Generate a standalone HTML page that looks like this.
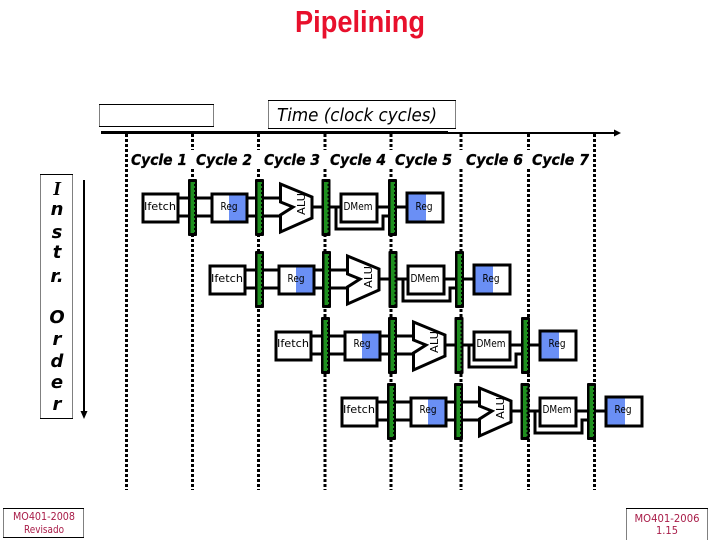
<!DOCTYPE html>
<html>
<head>
<meta charset="utf-8">
<style>
html,body{margin:0;padding:0;background:#fff;width:720px;height:540px;overflow:hidden}
svg{display:block}
text{font-family:"DejaVu Sans","Liberation Sans",sans-serif}
.cy{font-size:15px;font-weight:bold;font-style:italic;fill:#000;stroke:#000;stroke-width:.3}
.lb{font-size:11px;fill:#000;text-anchor:middle}
.in{font-size:18px;font-weight:bold;font-style:italic;fill:#000;text-anchor:middle}
.ft{font-size:11px;fill:#a81c48;text-anchor:middle}
</style>
</head>
<body>
<svg width="720" height="540" viewBox="0 0 720 540" xmlns="http://www.w3.org/2000/svg">
<defs>
<g id="latch">
  <rect x="0" y="0" width="9" height="57" rx="1" fill="#000"/>
  <rect x="2.500" y="3" width="3.500" height="51" fill="#1f8f1f"/>
  <path d="M6.500 3V54" stroke="#1f8f1f" stroke-width="1" stroke-dasharray="2 2" fill="none"/>
</g>
<g id="row">
  <g stroke="#000" stroke-width="3" fill="none">
    <path d="M178 198H188M178 216H188M197 198H211M197 216H211M247 198H255M247 216H255M264 198H286M264 216H286"/>
    <path d="M312 207H322M330 207H340M377 207H388M396 207H406"/>
    <path d="M336 207V229H383V216H388"/>
  </g>
  <rect x="143" y="194" width="35" height="28" fill="#fff" stroke="#000" stroke-width="3"/>
  <rect x="212" y="194" width="35" height="28" fill="#fff" stroke="#000" stroke-width="3"/>
  <rect x="229" y="195.500" width="16.500" height="25" fill="#6a8ff5"/>
  <rect x="341" y="194" width="36" height="28" fill="#fff" stroke="#000" stroke-width="3"/>
  <rect x="407" y="193" width="36" height="29" fill="#fff" stroke="#000" stroke-width="3"/>
  <rect x="408.500" y="194.500" width="17.500" height="26" fill="#6a8ff5"/>
  <polygon points="280.500,184 312,197 312,218 280.500,232 280.500,215 293,207 280.500,202" fill="#fff" stroke="#000" stroke-width="3"/>
  <use href="#latch" x="188" y="179"/>
  <use href="#latch" x="255" y="179"/>
  <use href="#latch" x="321.500" y="179"/>
  <use href="#latch" x="388" y="179"/>
</g>
</defs>

<text x="360" y="32" font-size="31" font-weight="bold" fill="#e8102c" text-anchor="middle" textLength="130" lengthAdjust="spacingAndGlyphs" style="font-family:'Liberation Sans',sans-serif">Pipelining</text>

<rect x="99.500" y="104.500" width="114" height="22" fill="#fff" stroke="#000" stroke-width="1" stroke-dasharray="1 1"/>
<path d="M99 104.500H214M99 126.500H214" stroke="#000" stroke-width="1"/>
<rect x="268.500" y="100.500" width="187" height="28" fill="#fff" stroke="#000" stroke-width="1" stroke-dasharray="1 1"/>
<path d="M268 100.500H456M268 128.500H456" stroke="#000" stroke-width="1"/>
<text x="277" y="121" font-size="18" font-style="italic" fill="#000" textLength="160" lengthAdjust="spacingAndGlyphs">Time (clock cycles)</text>

<path d="M101 132.500H448" stroke="#000" stroke-width="3"/>
<path d="M448 133H616" stroke="#000" stroke-width="2"/>
<polygon points="621,133 614,129.500 614,136.500" fill="#000"/>

<g stroke="#000" stroke-width="3" stroke-dasharray="3 2" fill="none">
  <path d="M126.500 134V490M192.500 134V490M258.500 134V490M325 134V490M391 134V490M461 134V490M528.500 134V490M594.500 134V490"/>
</g>

<rect x="131" y="150" width="462" height="19" fill="#fff"/>
<text class="cy" x="131" y="165" textLength="56" lengthAdjust="spacingAndGlyphs">Cycle 1</text>
<text class="cy" x="196" y="165" textLength="56" lengthAdjust="spacingAndGlyphs">Cycle 2</text>
<text class="cy" x="264" y="165" textLength="56" lengthAdjust="spacingAndGlyphs">Cycle 3</text>
<text class="cy" x="330" y="165" textLength="56" lengthAdjust="spacingAndGlyphs">Cycle 4</text>
<text class="cy" x="395" y="165" textLength="57" lengthAdjust="spacingAndGlyphs">Cycle 5</text>
<text class="cy" x="466" y="165" textLength="57" lengthAdjust="spacingAndGlyphs">Cycle 6</text>
<text class="cy" x="532" y="165" textLength="57" lengthAdjust="spacingAndGlyphs">Cycle 7</text>

<rect x="40.500" y="174.500" width="32" height="244" fill="#fff" stroke="#000" stroke-width="1" stroke-dasharray="1 1"/>
<path d="M40 174.500H73M40 418.500H73" stroke="#000" stroke-width="1"/>
<text class="in" x="57" y="195" style="font-family:'Liberation Serif',serif;font-size:20px">I</text>
<text class="in" x="57" y="215">n</text>
<text class="in" x="57" y="238">s</text>
<text class="in" x="57" y="258">t</text>
<text class="in" x="57" y="282">r.</text>
<text class="in" x="57" y="323">O</text>
<text class="in" x="57" y="345">r</text>
<text class="in" x="57" y="367">d</text>
<text class="in" x="57" y="388">e</text>
<text class="in" x="57" y="410">r</text>
<path d="M84 180V413" stroke="#000" stroke-width="2"/>
<polygon points="84,419 80.500,411 87.500,411" fill="#000"/>

<use href="#row"/>
<use href="#row" transform="translate(67,72)"/>
<use href="#row" transform="translate(133,138)"/>
<use href="#row" transform="translate(199,204)"/>

<g>
<text class="lb" x="160" y="210" textLength="32" lengthAdjust="spacingAndGlyphs">Ifetch</text>
<text class="lb" x="229" y="210" textLength="17" lengthAdjust="spacingAndGlyphs">Reg</text>
<text class="lb" transform="translate(305,204) rotate(-90)" textLength="22" lengthAdjust="spacingAndGlyphs">ALU</text>
<text class="lb" x="358" y="210" textLength="29" lengthAdjust="spacingAndGlyphs">DMem</text>
<text class="lb" x="424" y="210" textLength="17" lengthAdjust="spacingAndGlyphs">Reg</text>

<text class="lb" x="227" y="282" textLength="32" lengthAdjust="spacingAndGlyphs">Ifetch</text>
<text class="lb" x="296" y="282" textLength="17" lengthAdjust="spacingAndGlyphs">Reg</text>
<text class="lb" transform="translate(372,277) rotate(-90)" textLength="22" lengthAdjust="spacingAndGlyphs">ALU</text>
<text class="lb" x="425" y="282" textLength="29" lengthAdjust="spacingAndGlyphs">DMem</text>
<text class="lb" x="491" y="282" textLength="17" lengthAdjust="spacingAndGlyphs">Reg</text>

<text class="lb" x="293" y="347" textLength="32" lengthAdjust="spacingAndGlyphs">Ifetch</text>
<text class="lb" x="362" y="347" textLength="17" lengthAdjust="spacingAndGlyphs">Reg</text>
<text class="lb" transform="translate(438,342) rotate(-90)" textLength="22" lengthAdjust="spacingAndGlyphs">ALU</text>
<text class="lb" x="491" y="347" textLength="29" lengthAdjust="spacingAndGlyphs">DMem</text>
<text class="lb" x="557" y="347" textLength="17" lengthAdjust="spacingAndGlyphs">Reg</text>

<text class="lb" x="359" y="413" textLength="32" lengthAdjust="spacingAndGlyphs">Ifetch</text>
<text class="lb" x="428" y="413" textLength="17" lengthAdjust="spacingAndGlyphs">Reg</text>
<text class="lb" transform="translate(504,408) rotate(-90)" textLength="22" lengthAdjust="spacingAndGlyphs">ALU</text>
<text class="lb" x="557" y="413" textLength="29" lengthAdjust="spacingAndGlyphs">DMem</text>
<text class="lb" x="623" y="413" textLength="17" lengthAdjust="spacingAndGlyphs">Reg</text>
</g>

<rect x="3.500" y="508.500" width="80" height="29" fill="#fff" stroke="#000" stroke-width="1" stroke-dasharray="1 1"/>
<path d="M3 508.500H84M3 537.500H84" stroke="#000" stroke-width="1"/>
<text class="ft" x="44" y="520" textLength="62" lengthAdjust="spacingAndGlyphs">MO401-2008</text>
<text class="ft" x="44" y="533" textLength="40" lengthAdjust="spacingAndGlyphs">Revisado</text>

<rect x="626.500" y="508.500" width="81" height="34" fill="#fff" stroke="#000" stroke-width="1" stroke-dasharray="1 1"/>
<path d="M626 508.500H708" stroke="#000" stroke-width="1"/>
<text class="ft" x="667" y="522" textLength="65" lengthAdjust="spacingAndGlyphs">MO401-2006</text>
<text class="ft" x="667" y="534" textLength="22" lengthAdjust="spacingAndGlyphs">1.15</text>
</svg>
</body>
</html>
